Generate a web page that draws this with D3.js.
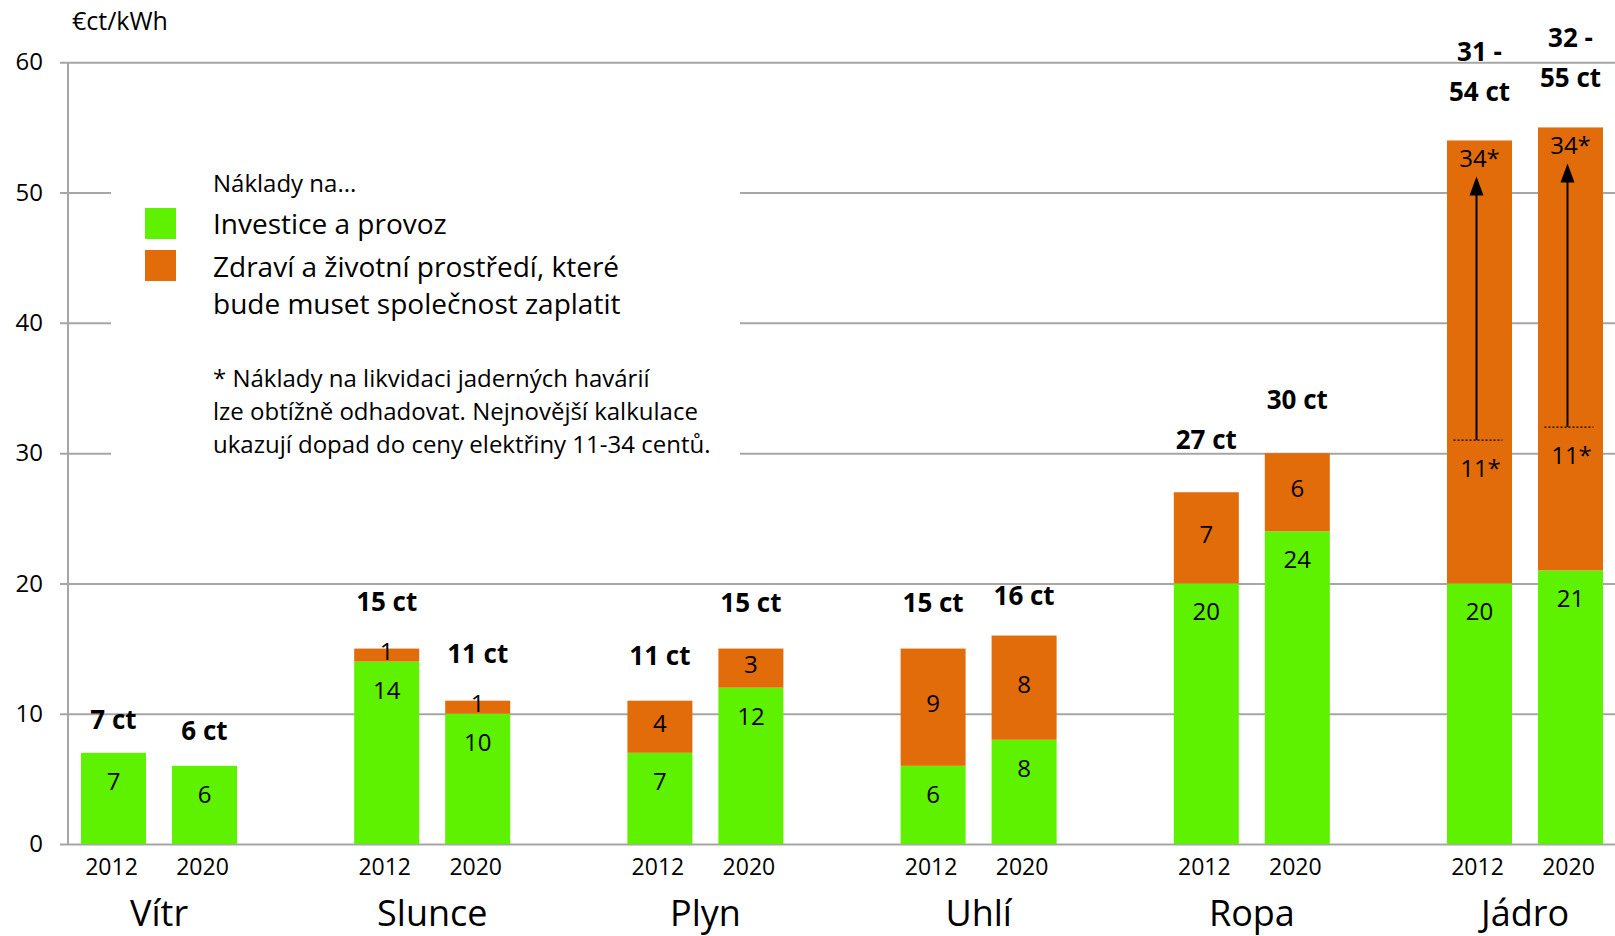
<!DOCTYPE html>
<html>
<head>
<meta charset="utf-8">
<script src="https://cdn.jsdelivr.net/npm/d3@7"></script>
<style>
  html, body { margin: 0; padding: 0; background: #fff; }
  svg { display: block; font-family: 'Open Sans', 'Noto Sans', sans-serif; }
</style>
</head>
<body>
<svg id="chart"></svg>
<script>
// data
const categories = ['Vítr', 'Slunce', 'Plyn', 'Uhlí', 'Ropa', 'Jádro']
const years = ['2012', '2020']
const investice2012 = [7, 14, 7, 6, 20, 20]
const investice2020 = [6, 10, 12, 8, 24, 21]
const zdravi2012 = [0, 1, 4, 9, 7, 34]
const zdravi2020 = [0, 1, 3, 8, 6, 34]
// lower estimate of the nuclear external costs (only Jádro)
const zdraviMin2012 = [null, null, null, null, null, 11]
const zdraviMin2020 = [null, null, null, null, null, 11]
const yTicks = [0, 10, 20, 30, 40, 50, 60]

const legendTitle = 'Náklady na...'
const legendItems = [
	['Investice a provoz'],
	['Zdraví a životní prostředí, které', 'bude muset společnost zaplatit']
]
const footnote = [
	'* Náklady na likvidaci jaderných havárií',
	'lze obtížně odhadovat. Nejnovější kalkulace',
	'ukazují dopad do ceny elektřiny 11-34 centů.'
]

// build rows for d3
const rows = []
categories.forEach((c, i) => {
	rows.push({cat: c, year: '2012', inv: investice2012[i], zdr: zdravi2012[i], min: zdraviMin2012[i], idx: i})
	rows.push({cat: c, year: '2020', inv: investice2020[i], zdr: zdravi2020[i], min: zdraviMin2020[i], idx: i})
})

// how far the bold totals sit above each bar (hand placed in the original)
const totalGap = {'2012': [24, 38, 36, 37, 43, 39], '2020': [26, 38, 37, 31, 44, 40]}

const W = 1615, H = 936
const green = '#5ef200', orange = '#e36c0a', gridColor = '#a6a6a6'

const svg = d3.select('#chart').attr('width', W).attr('height', H)

const y = d3.scaleLinear().domain([0, 60]).range([844, 62.3])

const x0 = d3.scaleBand()
			.domain(categories)
			.range([22.5, 22.5 + 6 * 273.2])
			.padding(0)

const x1 = d3.scaleBand()
			.domain(years)
			.range([58.5, 214.5])
			.paddingInner(2 / 7)
			.paddingOuter(0)

const cx = d => x0(d.cat) + x1(d.year) + x1.bandwidth() / 2

// gridlines + y labels
const yAxis = svg.append('g')
	.attr('transform', 'translate(60,0)')
	.call(d3.axisLeft(y).tickValues(yTicks).tickSize(-(W - 60)).tickPadding(17))

yAxis.select('.domain').remove()
yAxis.selectAll('.tick line').attr('stroke', gridColor).attr('stroke-width', 2)
yAxis.selectAll('.tick text')
	.attr('font-size', 24)
	.attr('fill', '#000')
	.attr('font-family', "'Open Sans', sans-serif")

// white box for the legend hides the gridlines behind it
svg.append('rect')
	.attr('x', 111).attr('y', 150)
	.attr('width', 629).attr('height', 315)
	.attr('fill', '#fff')

// vertical axis line
svg.append('line')
	.attr('x1', 68).attr('x2', 68)
	.attr('y1', y(60)).attr('y2', y(0))
	.attr('stroke', gridColor).attr('stroke-width', 2)

// unit
svg.append('text')
	.attr('x', 72).attr('y', 30)
	.attr('font-size', 25)
	.text('€ct/kWh')

// bars
const bars = svg.append('g')
	.selectAll('g')
	.data(rows)
	.join('g')

bars.append('rect')
	.attr('x', d => x0(d.cat) + x1(d.year))
	.attr('width', x1.bandwidth())
	.attr('y', d => y(d.inv))
	.attr('height', d => y(0) - y(d.inv))
	.attr('fill', green)

bars.filter(d => d.zdr > 0)
	.append('rect')
	.attr('x', d => x0(d.cat) + x1(d.year))
	.attr('width', x1.bandwidth())
	.attr('y', d => y(d.inv + d.zdr))
	.attr('height', d => y(d.inv) - y(d.inv + d.zdr))
	.attr('fill', orange)

// green values
bars.append('text')
	.attr('x', cx)
	.attr('y', d => y(d.inv) + 37)
	.attr('text-anchor', 'middle')
	.attr('font-size', 24)
	.text(d => d.inv)

// orange values (plain ones)
bars.filter(d => d.zdr > 0 && d.min == null)
	.append('text')
	.attr('x', cx)
	.attr('y', d => (y(d.inv) + y(d.inv + d.zdr)) / 2 + 5)
	.attr('text-anchor', 'middle')
	.attr('font-size', 24)
	.text(d => d.zdr)

// range bars (Jádro): dotted low mark, arrow to the top, 11* / 34*
const range = bars.filter(d => d.min != null)

range.append('line')
	.attr('x1', d => cx(d) - 26).attr('x2', d => cx(d) + 23)
	.attr('y1', d => y(d.inv + d.min)).attr('y2', d => y(d.inv + d.min))
	.attr('stroke', '#000').attr('stroke-width', 1.2)
	.attr('stroke-dasharray', '2,2')

range.append('line')
	.attr('x1', d => cx(d) - 3).attr('x2', d => cx(d) - 3)
	.attr('y1', d => y(d.inv + d.min))
	.attr('y2', d => y(d.inv + d.zdr) + 50)
	.attr('stroke', '#000').attr('stroke-width', 2)

range.append('path')
	.attr('d', d => {
		const ax = cx(d) - 3, tip = y(d.inv + d.zdr) + 36
		return `M${ax},${tip} L${ax - 7},${tip + 19} L${ax + 7},${tip + 19} Z`
	})
	.attr('fill', '#000')

range.append('text')
	.attr('x', d => cx(d) + 1)
	.attr('y', d => y(d.inv + d.min) + 37)
	.attr('text-anchor', 'middle')
	.attr('font-size', 24)
	.text(d => d.min + '*')

range.append('text')
	.attr('x', cx)
	.attr('y', d => y(d.inv + d.zdr) + 27)
	.attr('text-anchor', 'middle')
	.attr('font-size', 24)
	.text(d => d.zdr + '*')

// bold totals
bars.each(function(d) {
	const top = y(d.inv + d.zdr) - totalGap[d.year][d.idx]
	const lines = d.min != null
		? [(d.inv + d.min) + ' -', (d.inv + d.zdr) + ' ct']
		: [(d.inv + d.zdr) + ' ct']
	d3.select(this).selectAll('text.total')
		.data(lines)
		.join('text')
		.attr('class', 'total')
		.attr('x', cx(d))
		.attr('y', (t, i) => top - (lines.length - 1 - i) * 40)
		.attr('text-anchor', 'middle')
		.attr('font-size', 26)
		.attr('font-weight', 'bold')
		.text(t => t)
})

// years under bars
svg.append('g')
	.selectAll('text')
	.data(rows)
	.join('text')
	.attr('x', d => cx(d) - 2)
	.attr('y', 875)
	.attr('text-anchor', 'middle')
	.attr('font-size', 23)
	.text(d => d.year)

// category names
svg.append('g')
	.selectAll('text')
	.data(categories)
	.join('text')
	.attr('x', c => x0(c) + x0.bandwidth() / 2)
	.attr('y', 926)
	.attr('text-anchor', 'middle')
	.attr('font-size', 36)
	.text(c => c)

// legend
const legend = svg.append('g')

legend.append('text')
	.attr('x', 213).attr('y', 192)
	.attr('font-size', 24)
	.text(legendTitle)

legend.selectAll('rect')
	.data([green, orange])
	.join('rect')
	.attr('x', 145)
	.attr('y', (c, i) => [208, 250][i])
	.attr('width', 31).attr('height', 31)
	.attr('fill', c => c)

const itemBase = [234, 277]
legendItems.forEach((lines, i) => {
	lines.forEach((t, j) => {
		legend.append('text')
			.attr('x', 213).attr('y', itemBase[i] + j * 37)
			.attr('font-size', 28)
			.text(t)
	})
})

legend.selectAll('text.note')
	.data(footnote)
	.join('text')
	.attr('class', 'note')
	.attr('x', 213)
	.attr('y', (t, i) => 387 + i * 33)
	.attr('font-size', 24)
	.text(t => t)
</script>
</body>
</html>
